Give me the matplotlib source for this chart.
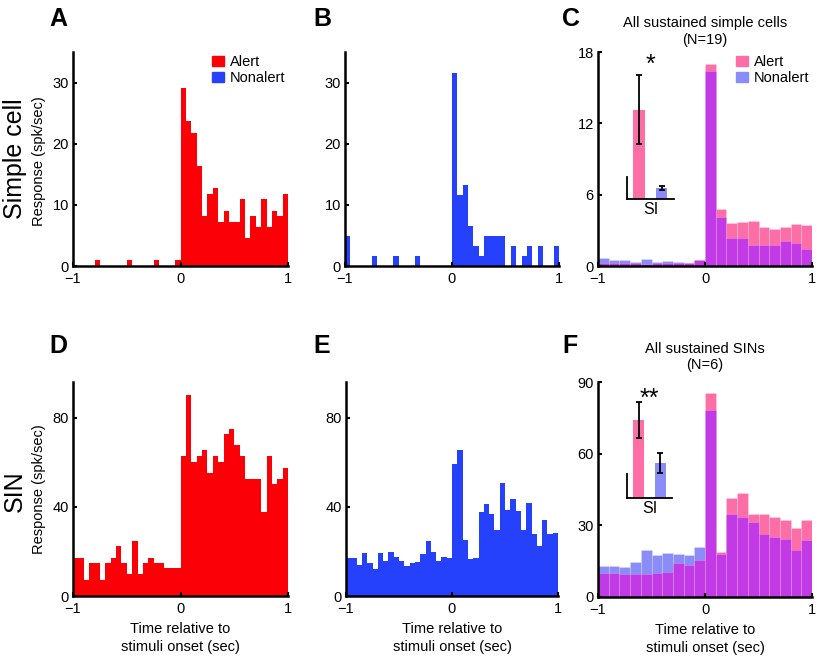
import matplotlib.pyplot as plt
import numpy as np
from matplotlib.patches import Patch

plt.rcParams['font.family'] = ['Liberation Sans', 'DejaVu Sans']

# Einzelzellen-PSTH (0.05 s Bins, -1 .. 1 s)
a_alert = [0, 0, 0, 0, 0.9, 0, 0, 0, 0, 0, 0.9, 0, 0, 0, 0, 0.9, 0, 0, 0, 0.9,
           29.1, 23.7, 21.8, 16.3, 8.2, 11.8, 12.7, 7.2, 9.0, 7.2,
           7.2, 10.9, 4.5, 8.2, 6.3, 10.9, 6.3, 9.0, 8.2, 11.8]
b_nonalert = [4.9, 0, 0, 0, 0, 1.65, 0, 0, 0, 1.65, 0, 0, 0, 1.65, 0, 0, 0, 0, 0, 0,
              31.6, 11.6, 13.3, 6.6, 3.3, 1.65, 4.9, 4.9, 4.9, 4.9,
              0, 3.3, 0, 1.65, 3.3, 0, 3.3, 0, 0, 3.3]
d_alert = [17.2, 17.2, 7.2, 14.6, 14.6, 7.2, 14.6, 17.2, 22.4, 14.6,
           9.7, 24.8, 9.7, 14.6, 17.2, 14.6, 14.6, 12.4, 12.4, 12.4,
           62.7, 90.3, 60.1, 62.7, 65.4, 55.2, 62.7, 60.1, 72.8, 75.0,
           67.6, 63.0, 52.7, 52.7, 52.7, 37.8, 62.7, 50.4, 52.7, 57.6]
e_nonalert = [16.9, 16.9, 13.9, 19.1, 14.9, 12.1, 19.1, 15.7, 19.9, 17.6,
              15.7, 13.4, 14.6, 15.1, 18.7, 24.6, 19.9, 15.7, 17.6, 16.9,
              59.1, 65.7, 25.1, 16.4, 16.9, 37.8, 41.2, 36.6, 29.6, 50.7,
              38.8, 43.6, 38.1, 29.6, 41.9, 27.6, 22.4, 34.0, 27.6, 28.1]

# Populations-PSTH (0.1 s Bins)
c_alert = [0.23, 0.23, 0.23, 0.23, 0.17, 0.23, 0.23, 0.23, 0.23, 0.51,
           17.0, 4.8, 3.6, 3.7, 3.8, 3.3, 3.15, 3.24, 3.5, 3.46]
c_nonalert = [0.68, 0.48, 0.48, 0.37, 0.56, 0.34, 0.42, 0.31, 0.25, 0.51,
              16.4, 4.1, 2.37, 2.37, 1.75, 1.75, 1.75, 2.1, 1.9, 1.46]
f_alert = [10.0, 10.0, 9.8, 9.5, 9.8, 10.0, 10.6, 14.2, 13.5, 15.6,
           85.4, 18.7, 41.4, 43.5, 34.9, 34.9, 33.5, 32.1, 28.9, 32.1]
f_nonalert = [12.8, 12.8, 12.6, 14.5, 19.5, 17.6, 18.4, 17.9, 17.4, 20.8,
              78.1, 18.1, 34.7, 33.5, 31.4, 26.5, 25.1, 24.4, 19.8, 24.0]

# Sustained index (Inset)
c_si = [0.40, 0.05]
c_si_err = [0.155, 0.01]
f_si = [0.326, 0.146]
f_si_err = [0.074, 0.04]

RED = '#fc0007'
BLUE = '#2641fb'
PINK = '#fe6ea6'
LBLUE = '#8a8cf8'
PURPLE = '#c23ae6'

W, H = 817, 657
fig = plt.figure(figsize=(W / 100, H / 100), dpi=100)


def px_axes(l, t, r, b):
    return fig.add_axes([l / W, 1 - b / H, (r - l) / W, (b - t) / H])


def style(ax, ytop, yticks):
    ax.set_xlim(-1, 1)
    ax.set_ylim(0, ytop)
    ax.set_xticks([-1, 0, 1])
    ax.set_yticks(yticks)
    for s in ['top', 'right']:
        ax.spines[s].set_visible(False)
    for s in ['left', 'bottom']:
        ax.spines[s].set_linewidth(1.8)
    ax.tick_params(direction='in', length=3, width=1.5, labelsize=10.5, pad=3)
    ax.tick_params(axis='x', pad=4.5)


def histo(ax, vals, color):
    n = len(vals)
    edges = np.linspace(-1, 1, n + 1)[:-1]
    ax.bar(edges, vals, width=2 / n, align='edge', color=color, linewidth=0)


def overlay(ax, alert, nonalert):
    alert = np.array(alert)
    nonalert = np.array(nonalert)
    n = len(alert)
    edges = np.linspace(-1, 1, n + 1)[:-1]
    top = np.maximum(alert, nonalert)
    low = np.minimum(alert, nonalert)
    top_col = [PINK if a >= b else LBLUE for a, b in zip(alert, nonalert)]
    ax.bar(edges, top, width=2 / n, align='edge', color=top_col,
           edgecolor=(1, 1, 1, 0.25), linewidth=0.5)
    ax.bar(edges, low, width=2 / n, align='edge', color=PURPLE,
           edgecolor=(1, 1, 1, 0.25), linewidth=0.5)


def inset(l, t, r, b, vals, errs, ytop, stars, off):
    ax = px_axes(l, t, r, b)
    ax.patch.set_visible(False)
    ax.bar([1, 2], vals, width=0.52, color=[PINK, LBLUE], linewidth=0)
    ax.errorbar([1, 2], vals, yerr=errs, fmt='none', ecolor='k',
                elinewidth=1.3, capsize=2, capthick=1.3)
    ax.set_xlim(0.46, 2.55)
    ax.set_ylim(0, ytop)
    ax.set_xticks([])
    ax.set_yticks([])
    for s in ['top', 'right']:
        ax.spines[s].set_visible(False)
    ax.spines['left'].set_bounds(0, 0.1)
    ax.spines['left'].set_linewidth(1.3)
    ax.spines['bottom'].set_linewidth(1.3)
    ax.set_xlabel('SI', fontsize=11.5, labelpad=2.5)
    ax.annotate(stars, xy=(1.5, vals[0] + errs[0]), xytext=(0, off),
                textcoords='offset points', ha='center', va='baseline',
                fontsize=18)
    return ax


# Obere Reihe: einfache Zellen
ax_a = px_axes(73, 52, 288, 266)
histo(ax_a, a_alert, RED)
style(ax_a, 35, [0, 10, 20, 30])
ax_a.legend(handles=[Patch(color=RED, label='Alert'), Patch(color=BLUE, label='Nonalert')],
            loc='upper right', bbox_to_anchor=(1.0, 1.0), frameon=False, fontsize=10.5,
            handlelength=0.8, handleheight=0.7, handletextpad=0.4, labelspacing=0.15,
            borderaxespad=0, borderpad=0.2)

ax_b = px_axes(345, 52, 559, 266)
histo(ax_b, b_nonalert, BLUE)
style(ax_b, 35, [0, 10, 20, 30])

ax_c = px_axes(598, 52, 812, 266)
overlay(ax_c, c_alert, c_nonalert)
style(ax_c, 18, [0, 6, 12, 18])
ax_c.set_title('All sustained simple cells\n(N=19)', fontsize=10.5, pad=6)
ax_c.legend(handles=[Patch(color=PINK, label='Alert'), Patch(color=LBLUE, label='Nonalert')],
            loc='upper right', bbox_to_anchor=(1.0, 1.0), frameon=False, fontsize=10.5,
            handlelength=0.8, handleheight=0.7, handletextpad=0.4, labelspacing=0.15,
            borderaxespad=0, borderpad=0.2)
inset(627, 50, 674, 199, c_si, c_si_err, (199 - 50) / 223, '*', 2.5)

# Untere Reihe: SINs
ax_d = px_axes(73, 382, 288, 596)
histo(ax_d, d_alert, RED)
style(ax_d, 96, [0, 40, 80])

ax_e = px_axes(346, 382, 558, 596)
histo(ax_e, e_nonalert, BLUE)
style(ax_e, 96, [0, 40, 80])

ax_f = px_axes(598, 382, 812, 597)
overlay(ax_f, f_alert, f_nonalert)
style(ax_f, 90, [0, 30, 60, 90])
ax_f.set_title('All sustained SINs\n(N=6)', fontsize=10.5, pad=9)
inset(627, 385, 672, 498, f_si, f_si_err, (498 - 385) / 240, '**', -3)

for ax in [ax_d, ax_e, ax_f]:
    ax.set_xlabel('Time relative to\nstimuli onset (sec)', fontsize=10.5,
                  labelpad=4, linespacing=1.4)

# Beschriftungen
for lab, x, y in [('A', 58, 19), ('B', 322, 19), ('C', 571, 19),
                  ('D', 58, 346), ('E', 322, 346), ('F', 570, 346)]:
    fig.text(x / W, 1 - y / H, lab, fontsize=18, fontweight='bold',
             ha='center', va='center')

fig.text(15 / W, 1 - 159 / H, 'Simple cell', fontsize=18, rotation=90,
         ha='center', va='center')
fig.text(15 / W, 1 - 491 / H, 'SIN', fontsize=18, rotation=90,
         ha='center', va='center')
fig.text(39 / W, 1 - 161 / H, 'Response (spk/sec)', fontsize=10.5, rotation=90,
         ha='center', va='center')
fig.text(39 / W, 1 - 489 / H, 'Response (spk/sec)', fontsize=10.5, rotation=90,
         ha='center', va='center')

fig.savefig('out.png', dpi=100)
